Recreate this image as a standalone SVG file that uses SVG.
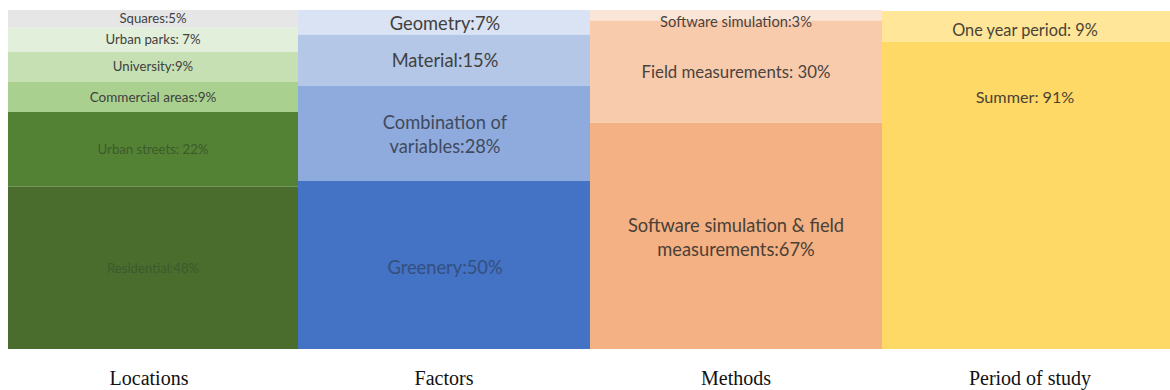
<svg xmlns="http://www.w3.org/2000/svg" width="1170" height="390" viewBox="0 0 1170 390">
  <style>
    .lbl { font-family: Lato, "Liberation Sans", sans-serif; text-anchor: middle; }
    .sm { font-size: 13.2px; fill: #404040; }
    .md { font-size: 18.3px; fill: #404040; }
    .cat { font-family: "Liberation Serif", "Times New Roman", serif; font-size: 20px; fill: #111111; text-anchor: middle; }
  </style>
  <rect x="0" y="0" width="1170" height="390" fill="#ffffff"/>

  <g id="locations">
    <g id="loc-squares"><rect x="8" y="10" width="290" height="17.7" fill="#e7e6e6"/><text class="lbl sm" x="153" y="22.7">Squares:5%</text></g>
    <g id="loc-parks"><rect x="8" y="27.7" width="290" height="24" fill="#e2efda"/><text class="lbl sm" x="153" y="44.3">Urban parks: 7%</text></g>
    <g id="loc-university"><rect x="8" y="51.7" width="290" height="30.3" fill="#c6e0b4"/><text class="lbl sm" x="153" y="71">University:9%</text></g>
    <g id="loc-commercial"><rect x="8" y="82" width="290" height="30" fill="#a9d08e"/><text class="lbl sm" x="153" y="101.7" style="font-size:13.5px">Commercial areas:9%</text></g>
    <g id="loc-streets"><rect x="8" y="112" width="290" height="74.7" fill="#548235"/><text class="lbl sm" x="153" y="154" style="fill:#3b5a2a">Urban streets: 22%</text></g>
    <g id="loc-residential"><rect x="8" y="186.7" width="290" height="162.3" fill="#4a6d2e"/><text class="lbl sm" x="153" y="273.3" style="fill:#3c5a2c">Residential:48%</text></g>
  </g>

  <g id="factors">
    <g id="fac-geometry"><rect x="298" y="10" width="292" height="24.7" fill="#dae3f3"/><text class="lbl md" x="445" y="30">Geometry:7%</text></g>
    <g id="fac-material"><rect x="298" y="34.7" width="292" height="51.3" fill="#b4c7e7"/><text class="lbl md" x="445" y="66.7">Material:15%</text></g>
    <g id="fac-combination"><rect x="298" y="86" width="292" height="95" fill="#8faadc"/><text class="lbl md" x="445" y="129" style="fill:#3f4a5e">Combination of</text><text class="lbl md" x="445" y="153.3" style="fill:#3f4a5e">variables:28%</text></g>
    <g id="fac-greenery"><rect x="298" y="181" width="292" height="168" fill="#4472c4"/><text class="lbl md" x="445" y="274.3" style="fill:#33507f">Greenery:50%</text></g>
  </g>

  <g id="methods">
    <g id="met-software"><rect x="590" y="10" width="292" height="10.5" fill="#fbe5d6"/></g>
    <g id="met-field"><rect x="590" y="20.5" width="292" height="102.2" fill="#f8cbad"/><text class="lbl md" x="736" y="78.3" style="font-size:16.8px;fill:#4a4340">Field measurements: 30%</text></g>
    <g id="met-both"><rect x="590" y="122.7" width="292" height="226.3" fill="#f4b183"/><text class="lbl md" x="736" y="231.7" style="fill:#4a4038">Software simulation &amp; field</text><text class="lbl md" x="736" y="256" style="fill:#4a4038">measurements:67%</text></g>
    <text class="lbl" x="736" y="26.7" style="font-size:14.7px;fill:#4a4340">Software simulation:3%</text>
  </g>

  <g id="period">
    <g id="per-year"><rect x="882" y="11" width="288" height="30.7" fill="#ffe699"/><text class="lbl md" x="1025" y="36" style="font-size:16.3px;fill:#4a4335">One year period: 9%</text></g>
    <g id="per-summer"><rect x="882" y="41.7" width="288" height="307.3" fill="#ffd966"/><text class="lbl md" x="1025" y="103.3" style="font-size:16.2px;fill:#4a4335">Summer: 91%</text></g>
  </g>

  <g id="categories">
    <text class="cat" x="149" y="385">Locations</text>
    <text class="cat" x="444" y="385">Factors</text>
    <text class="cat" x="736" y="385">Methods</text>
    <text class="cat" x="1030" y="385">Period of study</text>
  </g>
</svg>
